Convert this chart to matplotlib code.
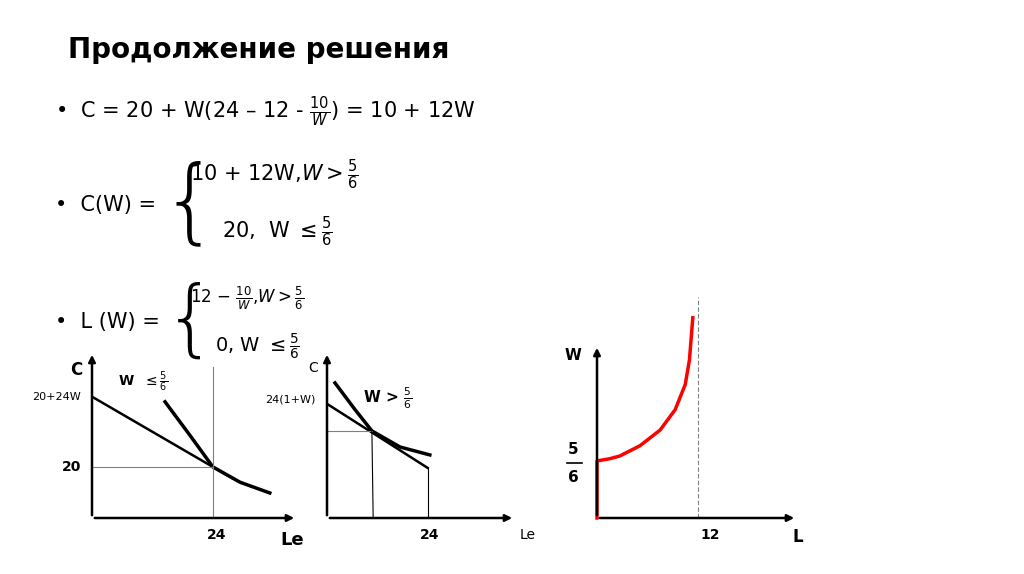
import matplotlib
matplotlib.use("Agg")
import matplotlib.pyplot as plt

# Left diagram (Le, C)
left_budget_x = [0, 24, 28]
left_budget_y = [47.5, 20, 15.4]
left_ic_x = [14.5, 19.4, 24, 29.4, 35.3]
left_ic_y = [45.5, 32.5, 20, 14, 9.8]
# Middle diagram
mid_budget_x = [0, 24]
mid_budget_y = [44.7, 19.6]
mid_ic_x = [1.9, 6.7, 10.7, 17.4, 24.5]
mid_ic_y = [52.9, 42.4, 34.1, 27.8, 24.7]
mid_tangent = (10.7, 34.1)
# Right diagram: labour supply L(W)
supply_L = [0, 0, 1.5, 2.7, 5.1, 7.5, 9.3, 10.5, 11.0, 11.4]
supply_W = [0, 0.838, 0.87, 0.91, 1.06, 1.29, 1.59, 1.96, 2.32, 2.94]

W, H = 1024, 574
fig = plt.figure(figsize=(10.24, 5.74), dpi=100)
fig.patch.set_facecolor("white")

def T(x, y, s, **kw):
    fig.text(x / W, 1 - y / H, s, **kw)

T(68, 50, "Продолжение решения", fontsize=20, fontweight="bold", va="center")
T(55, 112, "•  C = 20 + W(24 – 12 - $\\frac{10}{W}$) = 10 + 12W", fontsize=15, va="center")
T(55, 205, "•  C(W) =", fontsize=15, va="center")
T(160, 205, "{", fontsize=66, va="center", fontweight="light")
T(190, 175, "10 + 12W,$W>\\frac{5}{6}$", fontsize=15, va="center")
T(222, 232, "20,  W $\\leq\\frac{5}{6}$", fontsize=15, va="center")
T(55, 322, "•  L (W) =", fontsize=15, va="center")
T(164, 322, "{", fontsize=60, va="center", fontweight="light")
T(190, 298, "12 − $\\frac{10}{W}$,$W>\\frac{5}{6}$", fontsize=12, va="center")
T(215, 347, "0, W $\\leq\\frac{5}{6}$", fontsize=14, va="center")

def make_ax(x0, y0, x1, y1, xmax, ymax):
    ax = fig.add_axes([x0 / W, 1 - y0 / H, (x1 - x0) / W, (y0 - y1) / H])
    ax.set_xlim(0, xmax); ax.set_ylim(0, ymax)
    ax.axis("off")
    ax.annotate("", xy=(xmax, 0), xytext=(0, 0), arrowprops=dict(arrowstyle="-|>", lw=1.8, color="black"), annotation_clip=False)
    ax.annotate("", xy=(0, ymax), xytext=(0, 0), arrowprops=dict(arrowstyle="-|>", lw=1.8, color="black"), annotation_clip=False)
    return ax

# Left
ax1 = make_ax(92, 518, 297, 352, 40.7, 65)
ax1.plot(left_budget_x, left_budget_y, color="black", lw=1.8)
ax1.plot(left_ic_x, left_ic_y, color="black", lw=2.5)
ax1.plot([0, 24], [20, 20], color="gray", lw=0.8)
ax1.plot([24, 24], [0, 59], color="gray", lw=0.8)
T(70, 370, "C", fontsize=12, fontweight="bold", va="center")
T(32, 397, "20+24W", fontsize=8, va="center")
T(62, 467, "20", fontsize=10, fontweight="bold", va="center")
T(207, 535, "24", fontsize=10, fontweight="bold", va="center")
T(280, 540, "Le", fontsize=13, fontweight="bold", va="center")
T(118, 382, "W  $\\leq\\frac{5}{6}$", fontsize=10, fontweight="bold", va="center")

# Middle
ax2 = make_ax(327, 518, 515, 352, 44.8, 65)
ax2.plot(mid_budget_x, mid_budget_y, color="black", lw=1.8)
ax2.plot(mid_ic_x, mid_ic_y, color="black", lw=2.5)
ax2.plot([0, mid_tangent[0]], [mid_tangent[1]] * 2, color="gray", lw=0.8)
ax2.plot([mid_tangent[0], mid_tangent[0] + 0.3], [mid_tangent[1], 0], color="black", lw=0.8)
ax2.plot([24, 24], [0, 19.6], color="black", lw=0.8)
T(308, 368, "C", fontsize=10, va="center")
T(265, 399, "24(1+W)", fontsize=8, va="center")
T(363, 398, "W > $\\frac{5}{6}$", fontsize=11, fontweight="bold", va="center")
T(420, 535, "24", fontsize=10, fontweight="bold", va="center")
T(520, 535, "Le", fontsize=10, va="center")

# Right
ax3 = make_ax(597, 518, 797, 345, 23.8, 2.54)
ax3.plot([12, 12], [0, 3.25], color="gray", lw=0.8, ls=(0, (4, 2)), clip_on=False)
ax3.plot(supply_L, supply_W, color="red", lw=2.5, clip_on=False)
T(565, 355, "W", fontsize=11, fontweight="bold", va="center")
T(568, 450, "5", fontsize=11, fontweight="bold", va="center")
fig.lines.append(plt.Line2D([567 / W, 582 / W], [1 - 463 / H, 1 - 463 / H], color="black", lw=1.2, transform=fig.transFigure))
T(568, 478, "6", fontsize=11, fontweight="bold", va="center")
T(700, 535, "12", fontsize=10, fontweight="bold", va="center")
T(792, 537, "L", fontsize=12, fontweight="bold", va="center")

fig.savefig("out.png", dpi=100)
